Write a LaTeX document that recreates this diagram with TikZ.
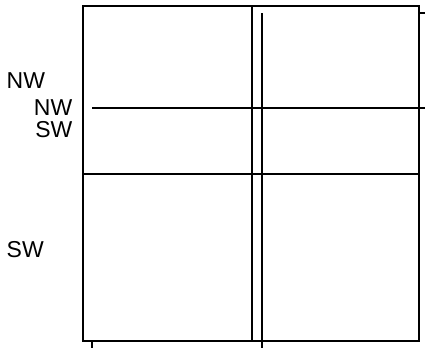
\documentclass[tikz,border=0pt]{standalone}
\usepackage{fontspec}
\setmainfont{Liberation Sans}
\begin{document}
\begin{tikzpicture}[x=1pt,y=1pt,
  ln/.style={draw=black,line width=2pt},
  lbl/.style={inner sep=0pt,font=\fontsize{23}{23}\selectfont}]
\useasboundingbox (0,0) rectangle (425,-348);
% outer frame
\coordinate (tl) at (83,-6);
\coordinate (br) at (419,-341);
\draw[ln] (tl) rectangle (br);
\draw[ln] (252,-6) -- (252,-341);
\draw[ln] (83,-174) -- (419,-174);
% offset grid
\draw[ln] (262,-13) -- (262,-348);
\draw[ln] (92,-108) -- (425,-108);
\draw[ln] (419,-13) -- (425,-13);
\draw[ln] (92,-341) -- (92,-348);
% labels
\node[lbl,anchor=base west] (nw1) at (6.5,-88) {NW};
\node[lbl,anchor=base east] (nw2) at (72.5,-115) {NW};
\node[lbl,anchor=base east] (sw2) at (72.5,-137.5) {SW};
\node[lbl,anchor=base west] (sw1) at (6.5,-257) {SW};
\end{tikzpicture}
\end{document}
